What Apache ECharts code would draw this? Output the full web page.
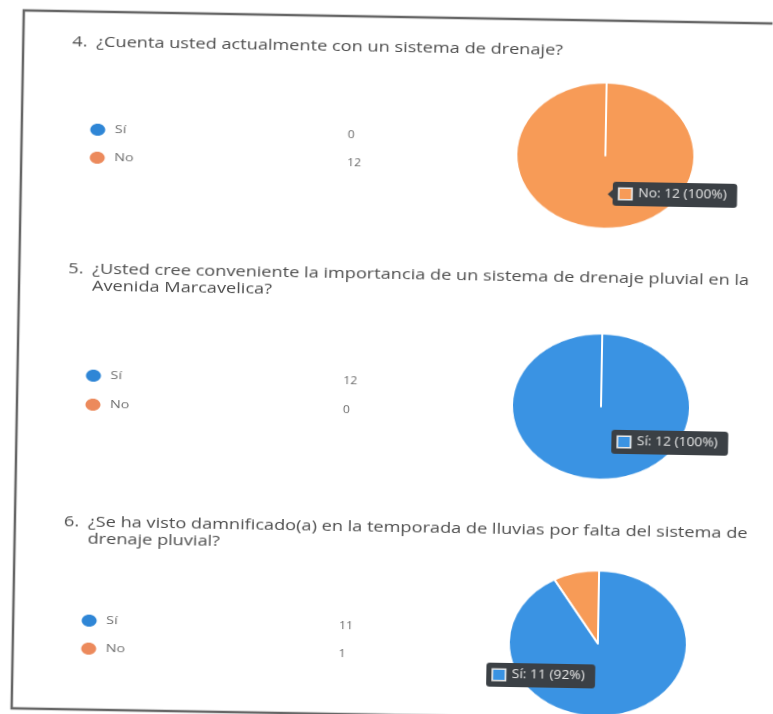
<!DOCTYPE html>
<html>
<head>
<meta charset="utf-8">
<title>Encuesta - sistema de drenaje</title>
<script src="https://cdn.jsdelivr.net/npm/echarts@6/dist/echarts.min.js"></script>
<style>
  html, body { margin: 0; padding: 0; background: #ffffff; overflow: hidden; }
  #page {
    position: relative; width: 773px; height: 714px;
    transform-origin: 0 0; transform: rotate(1deg);
  }
  #main { position: absolute; left: 0; top: 0; width: 773px; height: 714px; z-index: 2; }
  .pie { position: absolute; width: 200px; height: 200px; z-index: 1; transform: scaleY(0.82); transform-origin: 50% 50%; }
</style>
</head>
<body>
<div id="page">
  <div id="pie4" class="pie"></div>
  <div id="pie5" class="pie"></div>
  <div id="pie6" class="pie"></div>
  <div id="main"></div>
</div>
<script>
// Answer options shared by the three questions
const categories = ['Sí', 'No'];

// Question texts (number, then wrapped lines)
const q4Number = '4.';
const q4Lines = ['¿Cuenta usted actualmente con un sistema de drenaje?'];
const q5Number = '5.';
const q5Lines = ['¿Usted cree conveniente la importancia de un sistema de drenaje pluvial en la', 'Avenida Marcavelica?'];
const q6Number = '6.';
const q6Lines = ['¿Se ha visto damnificado(a) en la temporada de lluvias por falta del sistema de', 'drenaje pluvial?'];

// Response counts per option
const q4Values = [0, 12];
const q5Values = [12, 0];
const q6Values = [11, 1];

// Slice whose tooltip is shown on each chart
const q4Tip = 1;
const q5Tip = 0;
const q6Tip = 0;

const COLORS = ['#3a93e3', '#f79b57'];
const DOT_COLORS = ['#2f86d6', '#ec8a5c'];
const FONT = '"Open Sans", "Noto Sans", sans-serif';
const WIDE = 1.21; // horizontal stretch of the printed text

// Layout of each question block
const blocks = [
  { number: q4Number, lines: q4Lines, values: q4Values, tip: q4Tip, el: 'pie4',
    titleY: 41, rowY: [128, 156], pieC: [608, 145], tipXY: [616, 171], arrow: true },
  { number: q5Number, lines: q5Lines, values: q5Values, tip: q5Tip, el: 'pie5',
    titleY: 268, rowY: [374, 403], pieC: [608, 396], tipXY: [619, 419], arrow: false },
  { number: q6Number, lines: q6Lines, values: q6Values, tip: q6Tip, el: 'pie6',
    titleY: 521, rowY: [619, 647], pieC: [609, 633], tipXY: [498, 654], arrow: false }
];

const PIE_R = 89;
const elements = [];

// Page frame
elements.push({
  type: 'polyline', silent: true,
  shape: { points: [[800, 10], [24, 10], [24, 708], [800, 708]] },
  style: { stroke: '#666666', lineWidth: 2.5, fill: null }
});

blocks.forEach(function (b) {
  // Pie chart for the question
  const div = document.getElementById(b.el);
  div.style.left = (b.pieC[0] - 100) + 'px';
  div.style.top = (b.pieC[1] - 100) + 'px';
  const pie = echarts.init(div, null, { renderer: 'canvas' });
  const data = categories.map(function (c, i) { return { name: c, value: b.values[i] }; });
  pie.setOption({
    animation: false,
    color: COLORS,
    series: [
      {
        type: 'pie', radius: PIE_R, center: ['50%', '50%'], startAngle: 90, clockwise: true,
        silent: true, label: { show: false }, labelLine: { show: false },
        itemStyle: { borderWidth: 0 }, data: data
      },
      {
        // white slice separators drawn on top
        type: 'pie', radius: PIE_R, center: ['50%', '50%'], startAngle: 90, clockwise: true,
        silent: true, label: { show: false }, labelLine: { show: false },
        itemStyle: { color: 'rgba(0,0,0,0)', borderColor: '#ffffff', borderWidth: 2 }, data: data
      }
    ]
  });

  // Title
  elements.push({
    type: 'text', x: 73, y: b.titleY, scaleX: WIDE, silent: true,
    style: { text: b.number, fill: '#4d4d4d', fontSize: 15, fontFamily: FONT, verticalAlign: 'middle' }
  });
  b.lines.forEach(function (line, i) {
    elements.push({
      type: 'text', x: 97, y: b.titleY + i * 17, scaleX: WIDE, silent: true,
      style: { text: line, fill: '#4d4d4d', fontSize: 15, fontFamily: FONT, verticalAlign: 'middle' }
    });
  });

  // Legend rows with counts
  categories.forEach(function (c, i) {
    const y = b.rowY[i];
    elements.push({
      type: 'ellipse', silent: true,
      shape: { cx: 100, cy: y, rx: 7.5, ry: 6 },
      style: { fill: DOT_COLORS[i] }
    });
    elements.push({
      type: 'text', x: 117, y: y, scaleX: 1.25, silent: true,
      style: { text: c, fill: '#707070', fontSize: 11.5, fontFamily: FONT, verticalAlign: 'middle' }
    });
    elements.push({
      type: 'text', x: 350, y: y + 1, scaleX: 1.1, silent: true,
      style: { text: String(b.values[i]), fill: '#6a6a6a', fontSize: 11, fontFamily: FONT, verticalAlign: 'middle' }
    });
  });

  // Tooltip box stating the highlighted slice
  const total = b.values.reduce(function (s, v) { return s + v; }, 0);
  const v = b.values[b.tip];
  const pct = Math.round(v / total * 100);
  const tipText = '{sw|}  ' + categories[b.tip] + ': ' + v + ' (' + pct + '%)';
  if (b.arrow) {
    elements.push({
      type: 'polygon', silent: true,
      shape: { points: [[b.tipXY[0] - 5, b.tipXY[1] + 12.5], [b.tipXY[0] + 1, b.tipXY[1] + 7], [b.tipXY[0] + 1, b.tipXY[1] + 18]] },
      style: { fill: '#3b4045' }
    });
  }
  elements.push({
    type: 'text', x: b.tipXY[0], y: b.tipXY[1], scaleX: 1.15, silent: true,
    style: {
      text: tipText, fill: '#e6e6e6', fontSize: 12, fontFamily: FONT,
      backgroundColor: '#3b4045', borderRadius: 3, padding: [6, 9, 6, 6],
      rich: {
        sw: { width: 10, height: 10, backgroundColor: COLORS[b.tip], borderColor: '#e8e8e8', borderWidth: 1.5 }
      }
    }
  });
});

const main = echarts.init(document.getElementById('main'), null, { renderer: 'canvas' });
main.setOption({
  backgroundColor: 'transparent',
  animation: false,
  graphic: { elements: elements }
});
</script>
</body>
</html>
